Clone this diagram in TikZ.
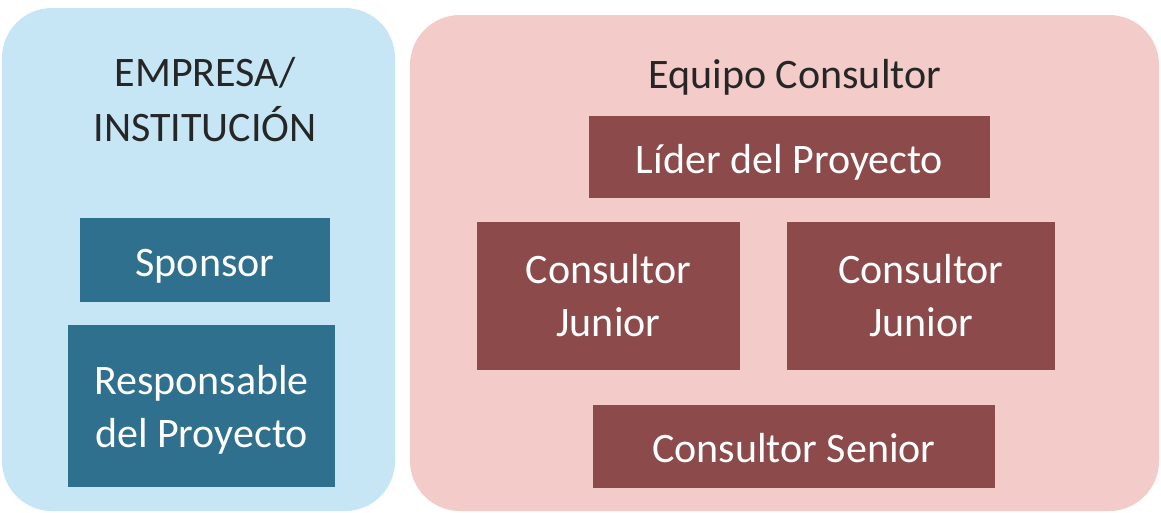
\documentclass[tikz,border=0pt]{standalone}
\usepackage{fontspec}
\setmainfont{Carlito}
\definecolor{bluebg}{HTML}{C6E6F6}
\definecolor{bluebox}{HTML}{30708F}
\definecolor{pinkbg}{HTML}{F3CBC9}
\definecolor{redbox}{HTML}{8C4A4B}
\definecolor{titlecol}{HTML}{262626}
\tikzset{
  panel/.style={rounded corners=50pt, draw=none},
  box/.style={draw=none, inner sep=0pt, align=center, text=white, font=\fontsize{42}{53}\selectfont},
  onebox/.style={box, text height=34pt, text depth=2pt},
  title/.style={inner sep=0pt, align=center, text=titlecol, font=\fontsize{42}{55}\selectfont},
}
\begin{document}
\begin{tikzpicture}[x=1pt,y=-1pt]
\useasboundingbox (0,0) rectangle (1161,512);
\fill[white] (0,0) rectangle (1161,512);
% panels
\fill[bluebg, panel] (2,8) rectangle (395,511);
\fill[pinkbg, panel] (410,15) rectangle (1159,511);
% titles
\node[title] (empresa) at (205,100) {EMPRESA/\\INSTITUCIÓN};
\node[title] (equipo) at (795,77) {Equipo Consultor};
% left boxes
\node[onebox, fill=bluebox, minimum width=250pt, minimum height=84pt] (sponsor) at (205,260) {Sponsor};
\node[box, text depth=0pt, fill=bluebox, minimum width=267pt, minimum height=162pt] (resp) at (201.5,406) {Responsable\\del Proyecto};
% right boxes
\node[onebox, fill=redbox, minimum width=401pt, minimum height=82pt] (lider) at (789.5,157) {Líder del Proyecto};
\node[box, fill=redbox, minimum width=263pt, minimum height=148pt] (cj1) at (608.5,296) {Consultor\\Junior};
\node[box, fill=redbox, minimum width=268pt, minimum height=148pt] (cj2) at (921,296) {Consultor\\Junior};
\node[onebox, fill=redbox, minimum width=402pt, minimum height=83pt] (senior) at (794,446.5) {Consultor Senior};
\end{tikzpicture}
\end{document}
